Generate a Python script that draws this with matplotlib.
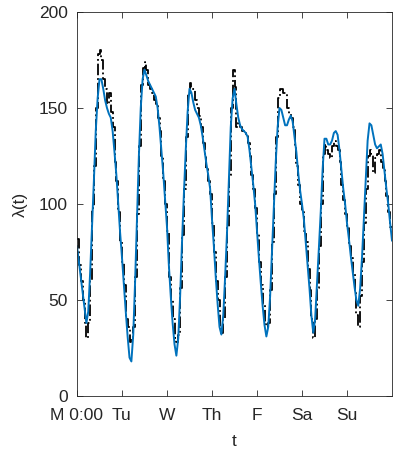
import matplotlib
matplotlib.use('Agg')
import matplotlib.pyplot as plt
import numpy as np

plt.rcParams['font.family'] = ['Liberation Sans', 'DejaVu Sans']

day_ticks = [0, 1, 2, 3, 4, 5, 6]
day_labels = ['M 0:00', 'Tu', 'W', 'Th', 'F', 'Sa', 'Su']
y_ticks = [0, 50, 100, 150, 200]

# fitted hourly rate, one list per day (hour 0..23)
rate_mon = [78, 70, 62, 54, 46, 38, 44, 64, 88, 112, 138, 155, 165, 165, 160, 154, 150, 147, 145, 138, 127, 115, 100, 85]
rate_tue = [72, 58, 44, 31, 20, 18, 32, 60, 92, 125, 150, 165, 170, 167, 164, 162, 160, 158, 156, 150, 140, 128, 116, 102]
rate_wed = [88, 68, 52, 38, 27, 21, 30, 52, 80, 105, 128, 148, 160, 158, 153, 149, 147, 145, 141, 135, 128, 121, 115, 108]
rate_thu = [92, 78, 62, 48, 36, 32, 42, 62, 85, 112, 140, 155, 160, 152, 145, 141, 139, 138, 137, 135, 128, 119, 110, 100]
rate_fri = [86, 72, 59, 47, 37, 31, 36, 52, 75, 98, 122, 140, 150, 149, 145, 141, 141, 144, 146, 143, 135, 127, 116, 107]
rate_sat = [100, 92, 80, 68, 56, 42, 33, 40, 58, 77, 96, 118, 134, 134, 131, 131, 133, 137, 138, 136, 128, 118, 108, 100]
rate_sun = [90, 82, 73, 65, 57, 50, 47, 56, 72, 92, 113, 133, 142, 141, 136, 131, 129, 130, 131, 126, 117, 108, 100, 90]
rate_end = 81

# observed hourly counts
count_mon = [82, 68, 60, 50, 38, 30, 38, 60, 98, 120, 150, 178, 180, 175, 165, 160, 152, 158, 148, 140, 122, 112, 96, 80]
count_tue = [70, 58, 40, 36, 28, 30, 36, 62, 95, 130, 162, 171, 174, 170, 162, 160, 158, 154, 152, 145, 138, 125, 112, 100]
count_wed = [86, 62, 50, 40, 30, 28, 32, 56, 84, 108, 135, 158, 163, 160, 160, 154, 150, 146, 140, 132, 126, 118, 112, 105]
count_thu = [90, 75, 60, 50, 36, 33, 40, 62, 88, 115, 150, 170, 161, 140, 142, 140, 138, 137, 136, 132, 125, 115, 108, 98]
count_fri = [85, 70, 58, 48, 38, 36, 38, 55, 80, 105, 135, 155, 160, 160, 158, 158, 150, 147, 145, 140, 130, 120, 110, 100]
count_sat = [96, 86, 80, 66, 55, 40, 30, 40, 56, 78, 100, 126, 131, 128, 126, 124, 130, 133, 130, 128, 122, 110, 102, 95]
count_sun = [88, 78, 72, 64, 55, 42, 36, 52, 70, 90, 108, 125, 128, 126, 116, 124, 126, 128, 122, 118, 112, 104, 96, 88]

rate = np.array(rate_mon + rate_tue + rate_wed + rate_thu + rate_fri + rate_sat + rate_sun + [rate_end])
t_rate = np.arange(len(rate)) / 24.0
counts = np.array(count_mon + count_tue + count_wed + count_thu + count_fri + count_sat + count_sun)
t_edges = np.arange(len(counts) + 1) / 24.0

fig = plt.figure(figsize=(3.93, 4.51), dpi=100)
ax = fig.add_axes([77 / 393, 55 / 451, 315 / 393, 384 / 451])

ax.step(t_edges, np.append(counts, counts[-1]), where='post', color='k', ls='-.', lw=1.3)
ax.plot(t_rate, rate, color='#0072BD', lw=1.4)

ax.set_xlim(0, 7)
ax.set_ylim(0, 200)
ax.set_xticks(day_ticks)
ax.set_xticklabels(day_labels)
ax.set_yticks(y_ticks)
ax.tick_params(direction='in', length=4, width=0.6, colors='#262626', labelsize=12.5,
               top=True, right=True, pad=6.5)
ax.tick_params(axis='x', pad=8.5)
for s in ax.spines.values():
    s.set_color('#262626')
    s.set_linewidth(0.6)

ax.set_xlabel('t', fontsize=12.5, color='#262626', labelpad=8)
ax.set_ylabel('λ(t)', fontsize=12.5, color='#262626', labelpad=8)

fig.savefig('out.png', dpi=100)
